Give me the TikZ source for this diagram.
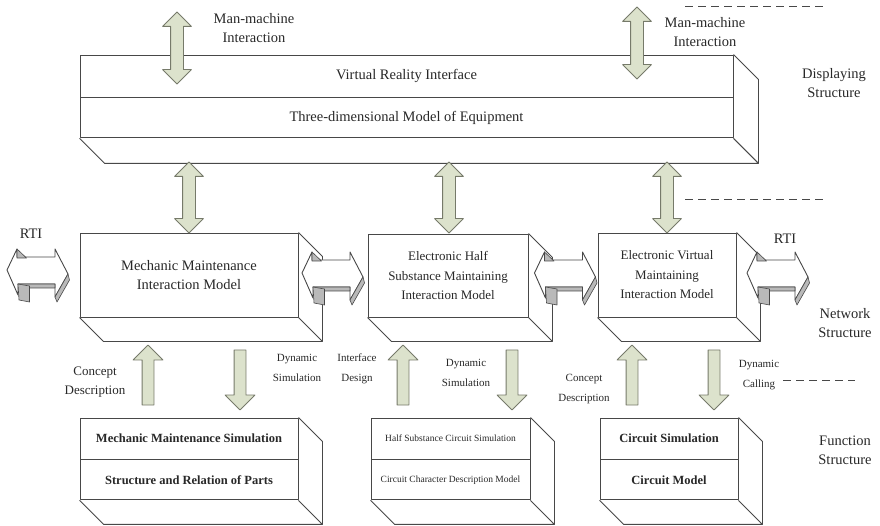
\documentclass[tikz,border=0pt]{standalone}
\usepackage{fontspec}
\setmainfont{Liberation Serif}
\usetikzlibrary{calc,shapes.arrows}
\definecolor{arrowfill}{RGB}{220,226,204}
\definecolor{arrowline}{RGB}{118,122,106}
\definecolor{boxline}{RGB}{72,72,72}
\definecolor{inkgray}{RGB}{40,40,40}
\tikzset{
  every picture/.style={line join=round},
  edge/.style={draw=boxline, line width=0.9pt},
  layer/.style={
    edge, rectangle, fill=white, inner sep=0pt,
    align=center, text=inkgray
  },
  shadeface/.style={edge, fill=gray!55, line width=0.6pt},
  bar/.style={
    draw=arrowline, fill=arrowfill, line width=0.8pt,
    inner xsep=0pt, inner ysep=6pt
  },
  updown/.style={bar, double arrow, double arrow head extend=8pt, rotate=90},
  onearrow/.style={bar, single arrow, single arrow head extend=9pt,
    inner ysep=5.5pt, minimum height=60pt},
  uparrow/.style={onearrow, rotate=90},
  downarrow/.style={onearrow, rotate=270},
  big/.style={font=\fontsize{14.5}{19}\selectfont},
  mid/.style={font=\fontsize{13}{19.5}\selectfont},
  fbold/.style={font=\fontsize{12.5}{15}\selectfont\bfseries},
  small/.style={font=\fontsize{11}{20}\selectfont},
  tiny/.style={font=\fontsize{9.5}{12}\selectfont},
  note/.style={align=center, text=inkgray, inner sep=0pt},
  dashline/.style={draw=boxline, line width=1pt, dash pattern=on 8pt off 5pt},
  % left-right arrow with a grey under side
  rtiarrow/.pic={
    \draw[edge, fill=white] (-30.5,-2) -- (-20.5,-23) -- (-20.5,-15) -- (17.5,-15)
      -- (17.5,-23) -- (30.5,2) -- (17.5,25) -- (17.5,12) -- (-19.5,12)
      -- (-19.5,23) -- cycle;
    \filldraw[shadeface] (-20.5,-23) -- (-20.5,-14) -- (-11,-14) -- cycle;
    \filldraw[shadeface] (-19.5,12) -- (17.5,12) -- (17.5,16) -- (-17,16) -- cycle;
    \filldraw[shadeface] (-19.5,12) -- (-8,14) -- (-8,30) -- (-18.5,28) -- cycle;
    \filldraw[shadeface] (17.5,25) -- (30.5,2) -- (32,8) -- (19.5,30) -- cycle;
  }
}
% depth faces below and right of a box: top node, bottom node, depth
\newcommand{\depthbox}[3]{%
  \draw[edge] (#2.south west) -- ++(#3,#3) -| ($(#1.north east)+(#3,#3)$)
    -- (#1.north east) (#2.south east) -- ++(#3,#3);}

\begin{document}
\begin{tikzpicture}[x=1pt, y=-1pt]
  \useasboundingbox (0,0) rectangle (880,526);

  % displaying structure
  \node[layer, big, minimum width=653pt, minimum height=42pt] (vr) at (406.5,76)
    {Virtual Reality Interface};
  \node[layer, big, minimum width=653pt, minimum height=40pt, anchor=north] (equip)
    at (vr.south) {Three-dimensional Model of Equipment};
  \depthbox{vr}{equip}{25}

  % network structure
  \node[layer, big, minimum width=218pt, minimum height=84pt] (mech) at (189,275)
    {Mechanic Maintenance\\Interaction Model};
  \depthbox{mech}{mech}{24}
  \node[layer, mid, minimum width=160pt, minimum height=83pt] (half) at (448,275.5)
    {Electronic Half\\Substance Maintaining\\Interaction Model};
  \depthbox{half}{half}{24}
  \node[layer, mid, minimum width=138pt, minimum height=84pt] (virt) at (667,275)
    {Electronic Virtual\\Maintaining\\Interaction Model};
  \depthbox{virt}{virt}{24}

  % function structure
  \node[layer, fbold, minimum width=218pt, minimum height=41pt] (mechsim) at (189,438.5)
    {Mechanic Maintenance Simulation};
  \node[layer, fbold, minimum width=218pt, minimum height=40pt, anchor=north] (parts)
    at (mechsim.south) {Structure and Relation of Parts};
  \depthbox{mechsim}{parts}{24}
  \node[layer, tiny, minimum width=159pt, minimum height=41pt] (halfsim) at (450.5,438.5)
    {Half Substance Circuit Simulation};
  \node[layer, tiny, minimum width=159pt, minimum height=40pt, anchor=north] (chardesc)
    at (halfsim.south) {Circuit Character Description Model};
  \depthbox{halfsim}{chardesc}{24}
  \node[layer, fbold, minimum width=138pt, minimum height=41pt] (cirsim) at (669,438.5)
    {Circuit Simulation};
  \node[layer, fbold, minimum width=138pt, minimum height=40pt, anchor=north] (cirmod)
    at (cirsim.south) {Circuit Model};
  \depthbox{cirsim}{cirmod}{24}

  % man-machine interaction and links between layers
  \node[updown, minimum height=72pt] (mm1) at (177,48) {};
  \node[updown, minimum height=72pt] (mm2) at (637,43) {};
  \node[updown, minimum height=71pt] (link1) at (189,197.5) {};
  \node[updown, minimum height=71pt] (link2) at (449,197.5) {};
  \node[updown, minimum height=71pt] (link3) at (667,197.5) {};

  \node[uparrow]   (up1) at (148,378) {};
  \node[downarrow] (dn1) at (240,377) {};
  \node[uparrow]   (up2) at (403,378) {};
  \node[downarrow] (dn2) at (512,377) {};
  \node[uparrow]   (up3) at (632,378) {};
  \node[downarrow] (dn3) at (714,377) {};

  % RTI arrows
  \pic at (37.5,272) {rtiarrow};
  \pic at (332.5,275) {rtiarrow};
  \pic at (565,275) {rtiarrow};
  \pic at (777.5,275) {rtiarrow};

  % labels
  \node[note, big] (mmtext1) at (254,28) {Man-machine\\Interaction};
  \node[note, big] (mmtext2) at (705,32) {Man-machine\\Interaction};
  \node[note, big] (rtitext1) at (31,234) {RTI};
  \node[note, big] (rtitext2) at (785,239) {RTI};
  \node[note, mid] (concept1) at (95,382) {Concept\\Description};
  \node[note, small] (dynsim1) at (297,368) {Dynamic\\Simulation};
  \node[note, small] (iface) at (357,369) {Interface\\Design};
  \node[note, small] (dynsim2) at (466,373) {Dynamic\\Simulation};
  \node[note, small] (concept2) at (584,389) {Concept\\Description};
  \node[note, small] (dyncall) at (759,375) {Dynamic\\Calling};

  \node[note, big] (displaying) at (834,83) {Displaying\\Structure};
  \node[note, big] (network) at (845,323) {Network\\Structure};
  \node[note, big] (function) at (845,450) {Function\\Structure};

  % layer separators
  \draw[dashline] (685,7) -- (827,7);
  \draw[dashline] (685,200) -- (827,200);
  \draw[dashline] (783,380) -- (855,380);
\end{tikzpicture}
\end{document}
